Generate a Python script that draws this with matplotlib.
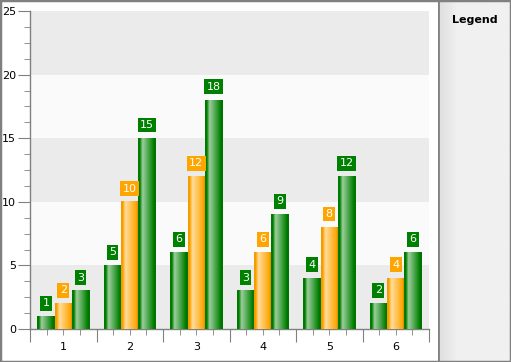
import numpy as np
import matplotlib
matplotlib.use("Agg")
import matplotlib.pyplot as plt
from matplotlib.patches import Rectangle
from matplotlib.colors import to_rgb

categories = ["1", "2", "3", "4", "5", "6"]
series_a = [1, 5, 6, 3, 4, 2]
series_b = [2, 10, 12, 6, 8, 4]
series_c = [3, 15, 18, 9, 12, 6]
series_colors = ["#008000", "#FFA500", "#008000"]
y_ticks = [0, 5, 10, 15, 20, 25]

W, H = 511, 362
fig = plt.figure(figsize=(W / 100, H / 100), dpi=100)
fig.patch.set_facecolor("white")

# legend panel background
lg = fig.add_axes([438 / W, 0, (W - 438) / W, 1])
grad = np.linspace(0, 1, 64)
c0 = np.array(to_rgb("#DEDEDE"))
c1 = np.array(to_rgb("#F0F0F0"))
t = np.clip(grad / 0.25, 0, 1)
img = (c0[None, :] * (1 - t[:, None]) + c1[None, :] * t[:, None])[None, :, :]
lg.imshow(img, extent=(0, 1, 0, 1), aspect="auto")
lg.set_xlim(0, 1)
lg.set_ylim(0, 1)
lg.axis("off")
lg.axvline(0.005, color="#808080", lw=2)
lg.text(0.5, 1 - 20 / H, "Legend", ha="center", va="center", fontsize=8,
        fontweight="bold", color="black")

# outer border
fig.add_artist(Rectangle((0, 0), 1, 1, transform=fig.transFigure, fill=False,
                         edgecolor="#808080", lw=2.5))

ax = fig.add_axes([30 / W, (H - 329) / H, (429 - 30) / W, (329 - 11) / H])
ax.set_facecolor("#FAFAFA")
for lo in (0, 10, 20):
    ax.axhspan(lo, lo + 5, color="#EBEBEB", zorder=0, lw=0)

n = len(categories)
x = np.arange(n)
bw = 0.26
offsets = [-bw, 0, bw]


def grad_img(color):
    base = np.array(to_rgb(color))
    light = base + (1 - base) * 0.62
    pos = np.linspace(0, 1, 40)
    out = []
    for p in pos:
        if p < 0.1:
            c = base * 0.95
        elif p < 0.25:
            f = (p - 0.1) / 0.15
            c = base * (1 - f) + light * f
        elif p < 0.88:
            f = (p - 0.25) / 0.63
            c = light * (1 - f) + base * f
        else:
            c = base * 0.9
        out.append(c)
    return np.array(out)[None, :, :]


for vals, off, col in zip([series_a, series_b, series_c], offsets, series_colors):
    g = grad_img(col)
    for xi, v in zip(x, vals):
        x0 = xi + off - bw / 2
        ax.imshow(g, extent=(x0, x0 + bw, 0, v), aspect="auto", zorder=3,
                  interpolation="bilinear")
        ax.annotate(str(v), (xi + off, v), xytext=(0, 9.5), textcoords="offset points",
                    ha="center", va="center", fontsize=8, color="white",
                    bbox=dict(boxstyle="square,pad=0.22", fc=col, ec="none"),
                    zorder=5)

ax.set_xlim(-0.5, n - 0.5)
ax.set_ylim(0, 25)
for s in ("top", "right"):
    ax.spines[s].set_visible(False)
for s in ("left", "bottom"):
    ax.spines[s].set_color("#808080")
    ax.spines[s].set_linewidth(1)

ax.set_yticks(y_ticks)
ax.set_yticks(np.arange(0, 25.01, 1.25), minor=True)
ax.tick_params(axis="y", which="major", length=9, color="#808080", labelsize=8, pad=1)
ax.tick_params(axis="y", which="minor", length=4, color="#808080")

ax.set_xticks(np.arange(-0.5, n, 1))
ax.set_xticklabels([])
ax.set_xticks(np.arange(-0.5, n - 0.4, 0.25), minor=True)
ax.tick_params(axis="x", which="major", length=9, color="#808080")
ax.tick_params(axis="x", which="minor", length=4, color="#808080")
for xi, c in zip(x, categories):
    ax.text(xi, -1.45, c, ha="center", va="center", fontsize=8, color="black")

fig.savefig("out.png", dpi=100)
